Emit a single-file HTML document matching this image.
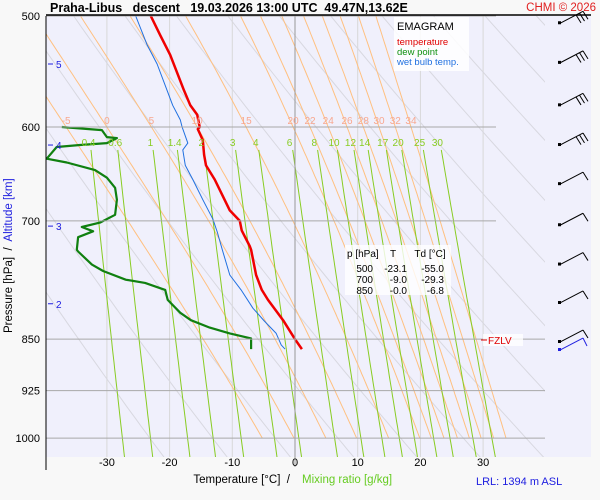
<!DOCTYPE html>
<html><head><meta charset="utf-8">
<style>
body{margin:0;background:#f8f8f8;}
svg{display:block;font-family:"Liberation Sans",sans-serif;}
text{white-space:pre;}
</style></head>
<body>
<svg id="chart" width="600" height="500" viewBox="0 0 600 500" xml:space="preserve">
<rect x="0" y="0" width="600" height="500" fill="#f8f8f8"/>
<rect x="46" y="16" width="545" height="441" fill="#f0f0fc"/>
<defs><clipPath id="clip"><rect x="46" y="16" width="499" height="441"/></clipPath></defs>
<g id="grid" clip-path="url(#clip)"></g>
<g id="series" clip-path="url(#clip)"></g>
<g id="labels"></g>
<line x1="46" y1="15" x2="591" y2="15" stroke="#000" stroke-width="1.5"/>
<line x1="46" y1="16" x2="46" y2="470" stroke="#000" stroke-width="1"/>
<text x="50" y="12" font-size="12.5" font-weight="bold">Praha-Libus   descent   19.03.2026 13:00 UTC  49.47N,13.62E</text>
<text x="596" y="11" font-size="11.5" fill="#e02020" text-anchor="end">CHMI © 2026</text>
<text x="290" y="483" font-size="11.5" text-anchor="end">Temperature [°C]  /</text>
<text x="302" y="483" font-size="11.5" fill="#66cc22">Mixing ratio [g/kg]</text>
<text x="476" y="485" font-size="11" fill="#2020e0">LRL: 1394 m ASL</text>
<text transform="translate(12,333) rotate(-90)" font-size="11.5">Pressure [hPa]  /  <tspan fill="#2020e0">Altitude [km]</tspan></text>
<rect x="394" y="17" width="75" height="54" fill="#fff" fill-opacity="0.85"/>
<text x="397" y="30" font-size="11">EMAGRAM</text>
<text x="397" y="45" font-size="9.5" fill="#e00000">temperature</text>
<text x="397" y="55" font-size="9.5" fill="#109010">dew point</text>
<text x="397" y="65" font-size="9.5" fill="#2070e0">wet bulb temp.</text>
<rect x="345" y="245" width="106" height="50" fill="#fff" fill-opacity="0.8"/>
<g font-size="10">
<text x="347" y="257">p [hPa]</text><text x="393" y="257" text-anchor="middle">T</text><text x="430" y="257" text-anchor="middle">Td [°C]</text>
<text x="373" y="272" text-anchor="end">500</text><text x="407" y="272" text-anchor="end">-23.1</text><text x="444" y="272" text-anchor="end">-55.0</text>
<text x="373" y="283" text-anchor="end">700</text><text x="407" y="283" text-anchor="end">-9.0</text><text x="444" y="283" text-anchor="end">-29.3</text>
<text x="373" y="294" text-anchor="end">850</text><text x="407" y="294" text-anchor="end">-0.0</text><text x="444" y="294" text-anchor="end">-6.8</text>
</g>
<rect x="483" y="334" width="40" height="12" fill="#fff" fill-opacity="0.8"/>
<line x1="481" y1="340" x2="487" y2="340" stroke="#e00000"/>
<text x="488" y="344" font-size="10" fill="#e00000">FZLV</text>
<g id="winds"></g>
</svg>
<script>
// ---- data ----
var tempP = [500,516,533,546,565,579,588,600,602,613,628,639,654,671,688,700,711,730,734,765,784,797,824,850,864];
var tempT = [-23.0,-21.5,-19.9,-19.0,-17.7,-16.7,-15.6,-15.2,-15.5,-14.7,-14.5,-14.2,-12.8,-11.6,-10.4,-8.8,-8.5,-7.2,-7.0,-6.2,-5.3,-4.3,-1.9,0.0,1.1];
var dewP = [600,603,610,611,616,618,620,632,636,644,652,663,676,693,702,707,712,719,734,736,752,760,771,775,784,797,814,824,834,842,849,864];
var dewT = [-37.2,-30.8,-30.0,-28.4,-30.0,-34.3,-38.0,-39.6,-36.4,-31.9,-30.0,-28.7,-28.4,-28.7,-31.1,-34.0,-32.2,-34.6,-34.8,-34.6,-32.4,-30.6,-27.0,-23.9,-20.7,-20.3,-18.3,-16.6,-13.6,-10.4,-7.0,-7.0];
var wetP = [500,524,541,565,579,593,600,616,623,639,654,676,698,713,734,765,784,808,825,842,858,864];
var wetT = [-25.4,-23.6,-22.0,-20.4,-19.5,-18.3,-18.0,-17.1,-17.9,-17.5,-16.3,-14.7,-13.1,-12.4,-11.6,-10.4,-8.6,-6.7,-4.9,-3.0,-2.2,-1.6];
var pressureTicks = [500,600,700,850,925,1000];
var tempTicks = [-30,-20,-10,0,10,20,30];
var altitudeTicks = [5,4,3,2];
var altitudeP = [541,618,706,802];
var mixRatios = [0.4,0.6,1,1.4,2,3,4,6,8,10,12,14,17,20,25,30];
var moistLabels = [-5,0,5,10,15,20,22,24,26,28,30,32,34];
var moistT600 = [-36.5,-30,-22.9,-15.6,-7.8,-0.3,2.4,5.3,8.3,10.9,13.4,16.0,18.5];
var dryTheta = [250,260,270,280,290,300,310,320,330,340,350,360,370,380,390,400,410];
var windP = [506,540,579,618,659,705,752,801,854];
var windBarbs = [3,3,3,3,1,1,1,1,1];
// ---- axes ----
function X(t){return 295+t*6.27;}
function Y(p){return 16+609*Math.log(p/500);}
var NS='http://www.w3.org/2000/svg';
function el(tag,attrs,parent){var e=document.createElementNS(NS,tag);for(var k in attrs)e.setAttribute(k,attrs[k]);parent.appendChild(e);return e;}
var grid=document.getElementById('grid'),series=document.getElementById('series'),labels=document.getElementById('labels'),winds=document.getElementById('winds');
function es(tc){return 6.112*Math.exp(17.67*tc/(tc+243.5));}
for(var t=-40;t<=40;t+=10){
  var l=el('line',{x1:X(t),y1:16,x2:X(t),y2:t===0?467:457,stroke:t===0?'#999':'#d8d8d8','stroke-width':1},t===0?labels:grid);
  
  
}
dryTheta.forEach(function(th){
  var pts=[];for(var p=480;p<=1060;p+=10){pts.push(X(th*Math.pow(p/1000,0.286)-273.15).toFixed(1)+','+Y(p).toFixed(1));}
  var e=el('polyline',{points:pts.join(' '),fill:'none',stroke:'#d8d8e0','stroke-width':1},grid);
  
  
});
function moistStep(T,p,dl){var tc=T-273.15,e=es(tc),rs=0.622*e/(p-e);
  var g=(287*T+2.5e6*rs)/(1004+2.5e6*2.5e6*rs*0.622/(287*T*T));return T+g*dl;}
moistT600.forEach(function(t6){
  var up=[],down=[],T=t6+273.15,p=600;
  while(p>=490){up.push([T,p]);var np=p-5;T=moistStep(T,p,Math.log(np/p));p=np;}
  T=t6+273.15;p=600;
  while(p<=1000){down.push([T,p]);var np2=p+5;T=moistStep(T,p,Math.log(np2/p));p=np2;}
  var pts=up.reverse().concat(down).map(function(a){return X(a[0]-273.15).toFixed(1)+','+Y(a[1]).toFixed(1);});
  var e=el('polyline',{points:pts.join(' '),fill:'none',stroke:'#ffc080','stroke-width':1},grid);
  
  
});
moistLabels.forEach(function(v,i){
  var e=el('text',{x:X(moistT600[i]),y:124,'font-size':10,fill:'#f8a890','text-anchor':'middle'},labels);
  e.textContent=v;
  
  
});
function tdFromW(w,p){var e=w*p/(622+w),x=Math.log(e/6.112);return 243.5*x/(17.67-x);}
mixRatios.forEach(function(w){
  var pts=[];for(var p=623;p<=1045;p+=10){pts.push(X(tdFromW(w,p)).toFixed(1)+','+Y(p).toFixed(1));}
  var e=el('polyline',{points:pts.join(' '),fill:'none',stroke:'#88cc22','stroke-width':1},grid);
  
  
  var t=el('text',{x:X(tdFromW(w,600)),y:146,'font-size':10,fill:'#88cc22','text-anchor':'middle'},labels);
  t.textContent=w;
  
  
});
pressureTicks.forEach(function(p){
  var l=el('line',{x1:46,y1:Y(p),x2:p<800?496:545,y2:Y(p),stroke:'#a8a8a8','stroke-width':1},labels);
  
  
  var t=el('text',{x:40,y:Y(p)+4,'font-size':11,'text-anchor':'end'},labels);
  t.textContent=p;
  
  
});
tempTicks.forEach(function(v){
  var t=el('text',{x:X(v),y:466,'font-size':11,'text-anchor':'middle'},labels);
  t.textContent=v;
  
  
});
altitudeTicks.forEach(function(v,i){
  var y=Y(altitudeP[i]);
  var l=el('line',{x1:48,y1:y,x2:53,y2:y,stroke:'#2020e0'},labels);
  
  
  var t=el('text',{x:56,y:y+4,'font-size':10,fill:'#2020e0'},labels);
  t.textContent=v;
  
  
});
function line(P,T,color,w,name){
  var pts=P.map(function(p,i){return X(T[i]).toFixed(1)+','+Y(p).toFixed(1);});
  var e=el('polyline',{points:pts.join(' '),fill:'none',stroke:color,'stroke-width':w,'stroke-linejoin':'round'},series);
  
  
}
line(wetP,wetT,'#2070e0',1,'wet-bulb-line');
line(dewP,dewT,'#108010',2.2,'dew-point-line');
line(tempP,tempT,'#f00000',2.5,'temperature-line');
windP.forEach(function(p,i){
  var y=Y(p),x0=560,x1=583,y1=y-12;
  var g=el('g',{stroke:'#000',fill:'none','stroke-width':1},winds);
  
  
  el('rect',{x:x0-2,y:y-2,width:3,height:3,fill:'#000',stroke:'none'},g);
  el('line',{x1:x0,y1:y,x2:x1,y2:y1},g);
  for(var k=0;k<windBarbs[i];k++){var bx=x1-k*3.5,by=y1+k*1.8;el('line',{x1:bx,y1:by,x2:bx+5,y2:by+8},g);}
  if(i===windP.length-1){
    var g2=el('g',{stroke:'#2020e0',fill:'none'},winds);
    
    
    el('rect',{x:x0-2,y:y+6,width:3,height:3,fill:'#2020e0',stroke:'none'},g2);
    el('line',{x1:x0,y1:y+8,x2:x1,y2:y1+8},g2);
    el('line',{x1:x1,y1:y1+8,x2:x1+4,y2:y1+16},g2);
  }
});
</script>
</body></html>
